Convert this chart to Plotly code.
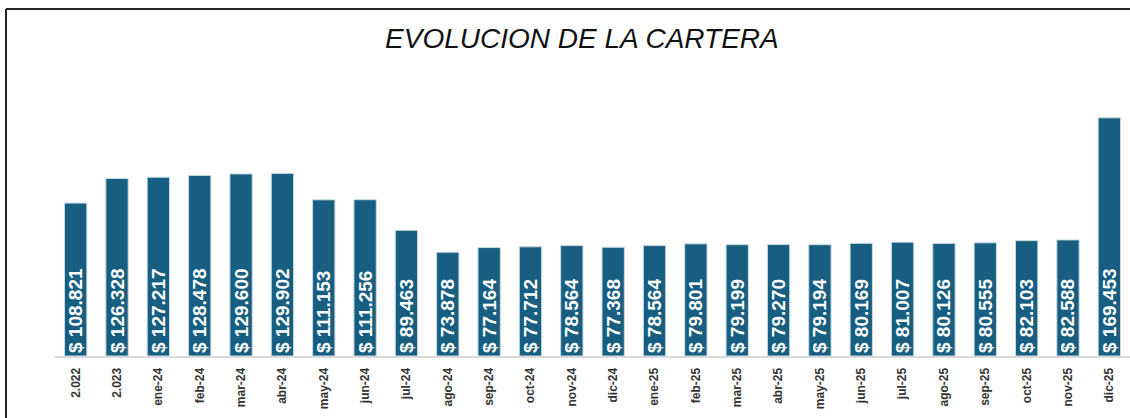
import plotly.graph_objects as go

categories = ["2.022", "2.023", "ene-24", "feb-24", "mar-24", "abr-24", "may-24", "jun-24",
              "jul-24", "ago-24", "sep-24", "oct-24", "nov-24", "dic-24", "ene-25", "feb-25",
              "mar-25", "abr-25", "may-25", "jun-25", "jul-25", "ago-25", "sep-25", "oct-25",
              "nov-25", "dic-25"]
values = [108821, 126328, 127217, 128478, 129600, 129902, 111153, 111256,
          89463, 73878, 77164, 77712, 78564, 77368, 78564, 79801,
          79199, 79270, 79194, 80169, 81007, 80126, 80555, 82103,
          82588, 169453]

FONT = "Liberation Sans, Arial, sans-serif"
BAR_COLOR = "#175e80"

W, H = 1130, 418
ml, mr, mt, mb = 55, 0, 89, 62
pw, ph = W - ml - mr, H - mt - mb

def px_x(x):
    return (x - ml) / pw

def px_y(y):
    return (H - mb - y) / ph

frame_line = dict(color="#222222", width=2)

fig = go.Figure()
fig.add_trace(go.Bar(
    x=categories,
    y=[v / 1000 for v in values],
    customdata=values,
    marker=dict(color=BAR_COLOR, line=dict(color="#c9dbe4", width=1)),
    texttemplate="$ %{customdata:,.0f}",
    textposition="inside",
    insidetextanchor="start",
    textangle=-90,
    constraintext="none",
    insidetextfont=dict(family=FONT, size=19, color="white", weight="bold"),
    hoverinfo="skip",
))

fig.update_layout(
    width=W, height=H,
    margin=dict(l=ml, r=mr, t=mt, b=mb, pad=0, autoexpand=False),
    paper_bgcolor="white", plot_bgcolor="white",
    separators=",.",
    bargap=0.46,
    showlegend=False,
    title=dict(text="<i>EVOLUCION DE LA CARTERA</i>", x=0.515, xanchor="center",
               y=1 - 38 / H, yanchor="middle", yref="container", xref="container",
               font=dict(family=FONT, size=28, color="#111111"), automargin=False),
    xaxis=dict(
        type="category",
        automargin=False,
        tickangle=-90,
        tickfont=dict(family=FONT, size=12, color="#333333", weight="bold"),
        showline=True, linecolor="#d9d9d9", linewidth=2,
        ticks="", showgrid=False, zeroline=False,
        ticklabelstandoff=5,
    ),
    yaxis=dict(range=[0, 190], visible=False, showgrid=False, zeroline=False,
               showline=False, automargin=False),
    shapes=[
        dict(type="line", xref="paper", yref="paper",
             x0=px_x(6), x1=px_x(1130), y0=px_y(9), y1=px_y(9), line=frame_line),
        dict(type="line", xref="paper", yref="paper",
             x0=px_x(6), x1=px_x(6), y0=px_y(9), y1=px_y(418), line=frame_line),
    ],
)

fig.write_html("out.html",
               config={"displayModeBar": False},
               post_script="document.body.style.margin='0';document.body.style.overflow='hidden';document.documentElement.style.overflow='hidden';")
